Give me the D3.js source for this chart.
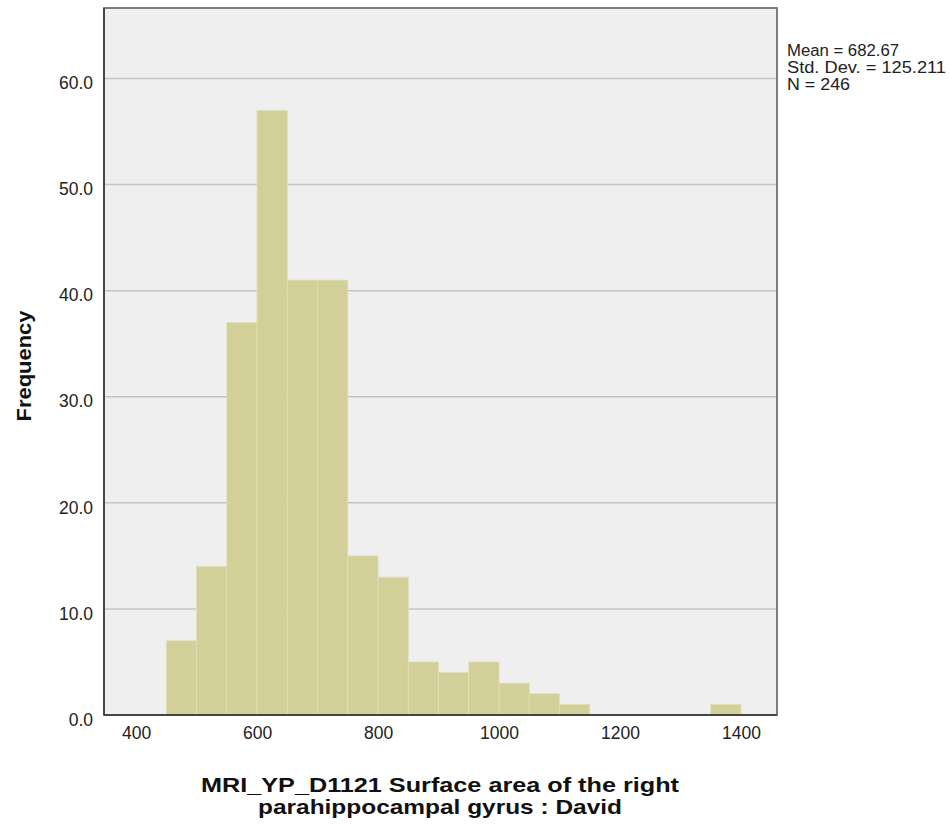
<!DOCTYPE html>
<html><head><meta charset="utf-8">
<script src="https://cdn.jsdelivr.net/npm/d3@7"></script>
<style>body{margin:0;background:#fff}svg{display:block}text{font-family:"Liberation Sans",Arial,sans-serif}</style>
</head><body>
<script>
const binStarts = [450,500,550,600,650,700,750,800,850,900,950,1000,1050,1100,1350];
const binWidth = 50;
const counts = [7,14,37,57,41,41,15,13,5,4,5,3,2,1,1];
const xTicks = [400,600,800,1000,1200,1400];
const yTicks = [0,10,20,30,40,50,60];
const statLines = ["Mean = 682.67","Std. Dev. = 125.211","N = 246"];
const statWidths = [112,159,63];
const titleLines = ["MRI_YP_D1121 Surface area of the right","parahippocampal gyrus : David"];
const titleWidths = [478,364];

const W=949,H=825;
const L=104,R=777,T=8,B=715;
const svg=d3.select("body").append("svg").attr("width",W).attr("height",H);
const x=d3.scaleLinear().domain([347,1459.5]).range([L,R]);
const y=d3.scaleLinear().domain([0,66.65]).range([B,T]);

svg.append("rect").attr("x",L).attr("y",T).attr("width",R-L).attr("height",B-T).attr("fill","#efefef");
svg.append("g").selectAll("line").data(yTicks.filter(d=>d>0)).join("line")
  .attr("x1",L).attr("x2",R).attr("y1",d=>y(d)).attr("y2",d=>y(d))
  .attr("stroke","#c4c4c4").attr("stroke-width",1.5);

svg.append("g").selectAll("rect").data(binStarts.map((s,i)=>({s,c:counts[i]}))).join("rect")
  .attr("x",d=>x(d.s)).attr("width",d=>x(d.s+binWidth)-x(d.s))
  .attr("y",d=>y(d.c)).attr("height",d=>y(0)-y(d.c))
  .attr("fill","#d3cf98").attr("stroke","#e2dfb3").attr("stroke-width",0.8);

// frame
svg.append("rect").attr("x",L).attr("y",T).attr("width",R-L).attr("height",B-T)
  .attr("fill","none").attr("stroke","#707070").attr("stroke-width",1.8);
svg.append("line").attr("x1",L).attr("x2",L).attr("y1",T).attr("y2",B).attr("stroke","#333").attr("stroke-width",1.5);
svg.append("line").attr("x1",L).attr("x2",R).attr("y1",B).attr("y2",B).attr("stroke","#333").attr("stroke-width",1.5);

const yAxis=d3.axisLeft(y).tickValues(yTicks).tickSize(0).tickPadding(11).tickFormat(d3.format(".1f"));
const gy=svg.append("g").attr("transform",`translate(${L},0)`).call(yAxis);
gy.select(".domain").remove();
gy.selectAll("text").attr("font-size",17.5).attr("fill","#222").attr("dy","0.58em")
  .attr("font-family","'Liberation Sans',Arial,sans-serif");

const xAxis=d3.axisBottom(x).tickValues(xTicks).tickSize(0).tickPadding(12).tickFormat(d3.format("d"));
const gx=svg.append("g").attr("transform",`translate(0,${B})`).call(xAxis);
gx.select(".domain").remove();
gx.selectAll("text").attr("font-size",17.5).attr("fill","#222").attr("font-family","'Liberation Sans',Arial,sans-serif");

svg.append("text").attr("transform","translate(31,366) rotate(-90)").attr("text-anchor","middle")
  .attr("font-size",20).attr("font-weight","bold").attr("fill","#111")
  .attr("textLength",111).attr("lengthAdjust","spacingAndGlyphs").text("Frequency");

svg.append("g").selectAll("text").data(titleLines).join("text")
  .attr("x",440).attr("y",(d,i)=>792+i*22).attr("text-anchor","middle")
  .attr("font-size",21).attr("font-weight","bold").attr("fill","#111")
  .attr("textLength",(d,i)=>titleWidths[i]).attr("lengthAdjust","spacingAndGlyphs").text(d=>d);

svg.append("g").selectAll("text").data(statLines).join("text")
  .attr("x",787).attr("y",(d,i)=>56+i*17).attr("font-size",16).attr("fill","#222")
  .attr("textLength",(d,i)=>statWidths[i]).attr("lengthAdjust","spacingAndGlyphs").text(d=>d);
</script>
</body></html>
